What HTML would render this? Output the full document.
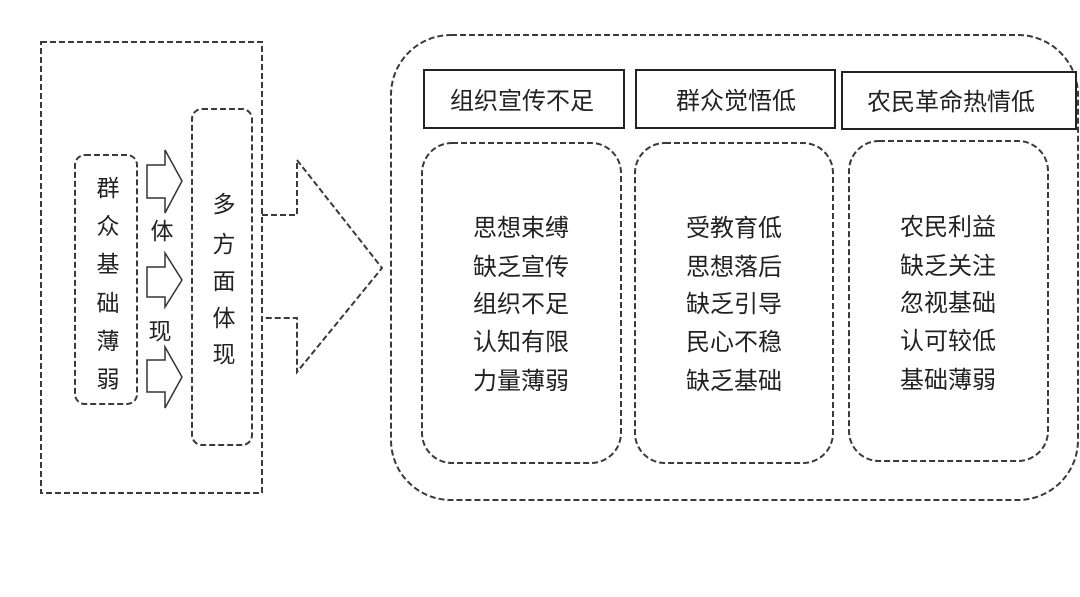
<!DOCTYPE html>
<html><head><meta charset="utf-8"><style>
html,body{margin:0;padding:0;background:#fff;}
svg text{font-family:"Liberation Sans","Noto Sans CJK SC",sans-serif;fill:#222;}
</style></head><body>
<svg width="1080" height="592" viewBox="0 0 1080 592" xmlns="http://www.w3.org/2000/svg">
<g fill="none" stroke="#3a3a3a" stroke-width="2" stroke-dasharray="6,3">
<rect x="41" y="42" width="221" height="451"/>
<rect x="75" y="155" width="62" height="249" rx="10"/>
<rect x="192" y="109" width="60" height="336" rx="10"/>
<path d="M262,215 L297,215 L297,160 L382,268 L297,372 L297,318 L262,318"/>
<rect x="391" y="35" width="687" height="465" rx="60"/>
<rect x="422" y="143" width="199" height="320" rx="30"/>
<rect x="635" y="143" width="198" height="320" rx="30"/>
<rect x="849" y="141" width="199" height="320" rx="30"/>
</g>
<g fill="#fff" stroke="#333" stroke-width="1.5">
<path d="M147,165 L165,165 L165,150 L182,181 L165,213 L165,198 L147,198 Z"/>
<path d="M147,267 L165,267 L165,253 L182,280 L165,307 L165,297 L147,297 Z"/>
<path d="M147,360 L165,360 L165,347 L182,377 L165,408 L165,392 L147,392 Z"/>
</g>
<g fill="#fff" stroke="#222" stroke-width="2">
<rect x="424" y="70" width="200" height="58"/>
<rect x="636" y="70" width="199" height="58"/>
<rect x="842" y="72" width="234" height="57"/>
</g>
<g font-size="23" text-anchor="middle">
<text x="108" y="196">群</text><text x="108" y="234">众</text><text x="108" y="272">基</text>
<text x="108" y="311">础</text><text x="108" y="349">薄</text><text x="108" y="387">弱</text>
<text x="224" y="212">多</text><text x="224" y="252">方</text><text x="224" y="289">面</text>
<text x="224" y="326">体</text><text x="224" y="362">现</text>
<text x="162" y="239">体</text><text x="160" y="339">现</text>
</g>
<g font-size="24" text-anchor="middle">
<text x="522" y="109">组织宣传不足</text>
<text x="736" y="109">群众觉悟低</text>
<text x="951" y="110">农民革命热情低</text>
</g>
<g font-size="24" text-anchor="middle">
<text x="521" y="236">思想束缚</text><text x="521" y="275">缺乏宣传</text><text x="521" y="312">组织不足</text><text x="521" y="350">认知有限</text><text x="521" y="389">力量薄弱</text>
<text x="734" y="236">受教育低</text><text x="734" y="275">思想落后</text><text x="734" y="312">缺乏引导</text><text x="734" y="350">民心不稳</text><text x="734" y="389">缺乏基础</text>
<text x="948" y="235">农民利益</text><text x="948" y="274">缺乏关注</text><text x="948" y="311">忽视基础</text><text x="948" y="349">认可较低</text><text x="948" y="388">基础薄弱</text>
</g>
</svg>
</body></html>
